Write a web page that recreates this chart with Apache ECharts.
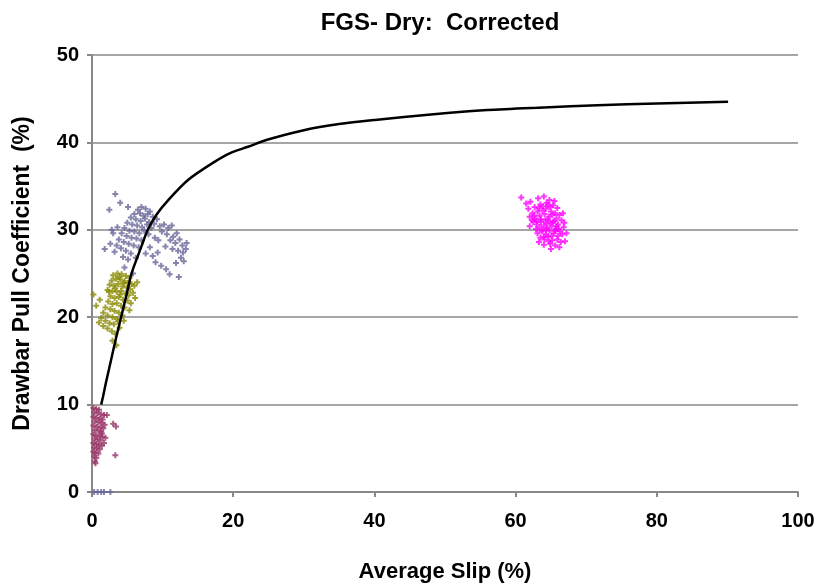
<!DOCTYPE html>
<html><head><meta charset="utf-8">
<script src="https://cdn.jsdelivr.net/npm/echarts@6/dist/echarts.min.js"></script>
<style>html,body{margin:0;padding:0;background:#fff}#c{width:819px;height:584px}</style>
</head><body><div id="c"></div>
<script>
// ---- data ----
const xTicks = [0, 20, 40, 60, 80, 100];
const yTicks = [0, 10, 20, 30, 40, 50];

const curveX = [1.3, 1.56, 2.0, 2.7, 3.4, 4.15, 4.9, 5.6, 6.4, 7.0, 7.9, 9.1, 10.8, 13.6, 17.4, 19.5, 22.1, 24.8, 30, 35, 40.4, 48, 56, 64, 71.6, 80, 90.1];
const curveY = [10.0, 10.9, 12.6, 15.1, 17.6, 20.1, 22.6, 25.0, 26.8, 28.1, 30.0, 31.7, 33.4, 35.7, 37.8, 38.75, 39.5, 40.3, 41.4, 42.1, 42.6, 43.2, 43.7, 44.0, 44.25, 44.45, 44.65];

const maroonPts = [[0.2,9.6],[0.6,9.5],[1.0,9.4],[0.3,9.1],[0.8,9.0],[1.3,8.9],[1.7,8.8],[0.2,8.6],[0.6,8.5],[1.1,8.4],[1.5,8.3],[0.4,8.1],[0.9,8.0],[1.4,7.9],[1.8,7.7],[0.2,7.6],[0.7,7.5],[1.2,7.4],[1.6,7.3],[0.4,7.1],[0.9,7.0],[1.3,6.9],[0.2,6.6],[0.6,6.5],[1.1,6.4],[1.5,6.3],[0.4,6.1],[0.8,6.0],[1.2,5.9],[0.2,5.6],[0.6,5.5],[1.0,5.4],[1.4,5.3],[0.3,5.1],[0.7,5.0],[1.1,4.9],[0.2,4.6],[0.5,4.5],[0.9,4.4],[0.3,4.1],[0.6,3.9],[0.4,3.5],[2.1,8.8],[3.0,7.8],[3.4,7.5],[3.3,4.2],[1.4,6.7],[1.9,6.2],[1.7,5.6],[0.5,3.3]];

const olivePts = [[3.0,24.8],[3.6,25.0],[4.2,24.9],[4.8,24.7],[5.3,24.5],[2.8,24.2],[3.4,24.4],[4.0,24.3],[4.6,24.1],[5.1,23.9],[5.6,23.8],[2.5,23.7],[3.1,23.6],[3.7,23.8],[4.3,23.5],[4.9,23.4],[5.4,23.2],[6.0,23.6],[2.2,23.1],[2.9,23.0],[3.5,22.9],[4.1,23.0],[4.7,22.7],[5.2,22.5],[5.8,22.8],[2.6,22.4],[3.2,22.2],[3.8,22.3],[4.4,22.0],[5.0,21.9],[5.5,21.6],[2.3,21.8],[2.9,21.5],[3.5,21.6],[4.1,21.3],[4.6,21.1],[1.9,21.1],[2.6,20.9],[3.2,20.7],[3.8,20.5],[4.3,20.2],[1.6,20.5],[2.2,20.2],[2.9,20.0],[3.5,19.8],[1.3,19.9],[1.9,19.6],[2.5,19.3],[3.1,19.2],[3.7,19.5],[1.0,19.4],[1.6,19.0],[2.2,18.7],[2.8,18.4],[3.3,18.1],[0.6,21.3],[0.2,22.6],[1.1,22.0],[3.45,16.8],[2.9,17.3],[3.9,18.8],[4.5,19.6],[5.3,20.8],[6.1,22.2],[6.4,24.0],[3.9,24.6],[4.5,23.9],[3.3,23.3],[4.0,22.6],[2.4,22.9]];

const bluePts = [[6.5,32.3],[7.0,32.6],[7.6,32.4],[8.2,32.1],[6.0,31.8],[6.8,31.9],[7.3,31.6],[7.9,31.8],[8.6,31.5],[5.5,31.4],[6.2,31.2],[6.9,31.0],[7.5,31.3],[8.1,30.9],[8.8,30.7],[9.2,31.2],[5.0,30.8],[5.7,30.6],[6.4,30.5],[7.1,30.3],[7.8,30.6],[8.4,30.2],[4.6,30.2],[5.3,29.9],[6.0,29.8],[6.7,29.6],[7.4,29.9],[8.0,29.5],[4.2,29.6],[4.9,29.3],[5.6,29.1],[6.3,29.0],[7.0,28.8],[3.8,28.9],[4.5,28.6],[5.2,28.4],[5.9,28.2],[6.6,28.0],[3.5,28.2],[4.1,27.9],[4.8,27.6],[5.5,27.3],[3.2,27.5],[4.4,26.9],[5.1,26.6],[6.2,26.8],[3.0,29.6],[3.6,30.3],[2.8,30.0],[3.3,34.1],[4.0,33.1],[2.45,32.3],[5.1,32.6],[1.8,27.8],[2.6,28.4],[4.6,25.7],[5.8,25.0],[9.6,30.4],[10.2,30.6],[10.8,30.2],[11.3,30.5],[9.9,29.8],[10.6,29.5],[11.5,29.2],[12.0,29.6],[11.1,28.8],[11.8,28.5],[12.4,28.9],[12.8,28.2],[11.4,27.8],[12.2,27.6],[12.9,27.4],[13.3,27.8],[12.6,26.8],[13.0,26.4],[11.9,26.2],[13.4,28.5],[10.4,28.1],[9.3,27.4],[8.6,27.0],[9.0,26.3],[9.8,25.9],[10.5,25.5],[8.2,28.0],[7.6,27.3],[11.0,24.9],[12.3,24.6],[9.4,28.8],[8.9,29.1],[0.3,0],[0.8,0],[1.3,0],[1.7,0],[2.6,0]];

const magentaPts = [[63.2,33.6],[62.1,33.2],[64.0,33.8],[64.8,33.4],[63.5,32.9],[61.8,32.4],[62.7,32.6],[63.9,32.7],[64.6,32.9],[65.3,32.8],[65.9,32.5],[62.4,31.9],[63.1,32.1],[63.8,32.2],[64.3,32.4],[65.0,32.1],[65.6,31.9],[66.2,31.7],[62.0,31.5],[62.8,31.3],[63.4,31.6],[64.1,31.8],[64.7,31.5],[65.2,31.7],[65.8,31.3],[66.5,31.1],[62.5,30.9],[63.0,30.6],[63.6,30.9],[64.2,31.1],[64.9,30.8],[65.5,31.0],[66.0,30.6],[66.8,30.3],[62.9,30.1],[63.4,30.3],[64.0,30.5],[64.5,30.2],[65.1,30.4],[65.7,30.1],[66.3,29.8],[63.1,29.6],[63.7,29.8],[64.3,29.5],[64.8,29.9],[65.4,29.6],[66.0,29.3],[66.6,29.5],[63.5,29.1],[64.1,28.9],[64.6,29.2],[65.2,28.8],[65.9,28.9],[66.4,28.6],[64.0,28.3],[64.9,28.4],[65.6,28.2],[66.2,28.0],[67.0,28.7],[67.2,29.6],[66.9,30.8],[61.5,33.0],[60.8,33.7],[62.0,30.4],[63.3,28.6],[65.0,27.8],[64.4,33.1],[65.5,33.3],[63.0,31.0],[64.4,30.7],[65.8,30.4],[64.6,31.2],[63.8,30.0],[65.1,29.3],[64.0,29.2],[62.3,31.1],[66.7,31.9],[64.9,32.6],[63.6,31.2],[64.3,30.0],[65.3,30.9],[63.3,32.5],[65.6,29.9],[64.7,28.7],[62.6,31.6],[66.1,30.1]];

// ---- chart ----
const FONT = '"Liberation Sans", Arial, sans-serif';
const plus = 'path://M3,0h3v3h3v3h-3v3h-3v-3h-3v-3h3z';
function sc(name, data, color) {
  return { name, type: 'scatter', data, symbol: plus, symbolSize: 6,
    itemStyle: { color }, z: 2, animation: false };
}
const chart = echarts.init(document.getElementById('c'), null, { renderer: 'canvas' });
chart.setOption({
  animation: false,
  backgroundColor: '#fff',
  title: { text: 'FGS- Dry:  Corrected', left: 435, top: 6, textAlign: 'center',
    textStyle: { fontFamily: FONT, fontWeight: 'bold', fontSize: 24, color: '#000' } },
  grid: { left: 92, right: 21, top: 55, bottom: 92, containLabel: false, outerBoundsMode: 'none' },
  xAxis: {
    type: 'value', min: xTicks[0], max: xTicks[xTicks.length - 1], interval: 20,
    name: 'Average Slip (%)', nameLocation: 'middle', nameGap: 69,
    nameTextStyle: { fontFamily: FONT, fontWeight: 'bold', fontSize: 22, color: '#000' },
    axisLine: { lineStyle: { color: '#888', width: 2 } },
    axisTick: { show: true, inside: false, length: 5, lineStyle: { color: '#888', width: 2 } },
    axisLabel: { fontFamily: FONT, fontWeight: 'bold', fontSize: 20, color: '#000', margin: 19 },
    splitLine: { show: false }
  },
  yAxis: {
    type: 'value', min: yTicks[0], max: yTicks[yTicks.length - 1], interval: 10,
    name: 'Drawbar Pull Coefficient  (%)', nameLocation: 'middle', nameGap: 58, nameRotate: 90,
    nameTextStyle: { fontFamily: FONT, fontWeight: 'bold', fontSize: 23, color: '#000' },
    axisLine: { show: true, lineStyle: { color: '#888', width: 2 } },
    axisTick: { show: true, inside: false, length: 5, lineStyle: { color: '#888', width: 2 } },
    axisLabel: { fontFamily: FONT, fontWeight: 'bold', fontSize: 20, color: '#000', margin: 13 },
    splitLine: { show: true, lineStyle: { color: '#a6a6a6', width: 2 } }
  },
  series: [
    sc('Blue', bluePts, '#666699'),
    sc('Magenta', magentaPts, '#ff00ff'),
    sc('Maroon', maroonPts, '#993366'),
    sc('Olive', olivePts, '#8a8a00'),
    { name: 'Fit', type: 'line', data: curveX.map((x, i) => [x, curveY[i]]), smooth: 0.3,
      showSymbol: false, symbol: 'none', lineStyle: { color: '#000', width: 2.5 }, z: 3 }
  ]
});
</script></body></html>
